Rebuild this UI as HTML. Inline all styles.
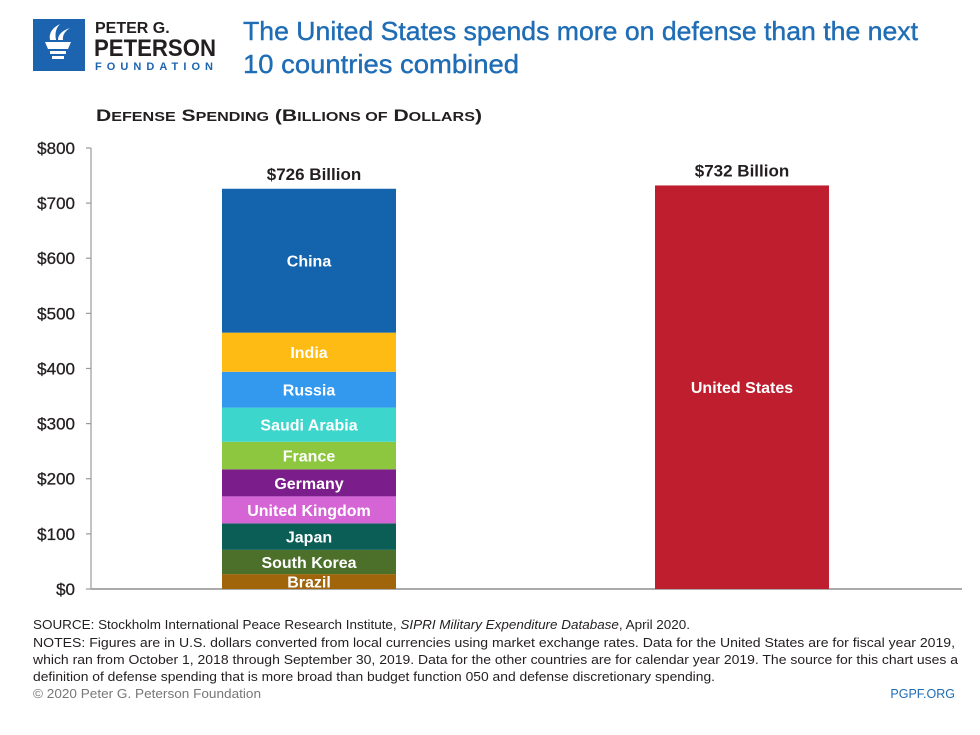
<!DOCTYPE html>
<html><head><meta charset="utf-8">
<style>
html,body{margin:0;padding:0;background:#fff;}
svg{display:block;font-family:"Liberation Sans",sans-serif;}
</style></head>
<body>
<svg id="chart" width="980" height="735" viewBox="0 0 980 735">
  <g>
    <rect x="33" y="19" width="52" height="52" fill="#1c64b0"/>
    <path d="M45 42 h26 l-3 7 h-20 z M50 51 h16 v3 h-16 z M52 56 h12 v3 h-12 z" fill="#fff"/>
    <path d="M50 40 q-2 -10 10 -16 q-6 6 -4 16 z M58 40 q0 -8 12 -12 q-8 5 -7 12 z" fill="#fff"/>
    <text x="95" y="33" font-size="16" font-weight="bold" fill="#231f20">PETER G.</text>
    <text x="94" y="56" font-size="24" font-weight="bold" fill="#231f20" textLength="122" lengthAdjust="spacingAndGlyphs">PETERSON</text>
    <text x="95" y="70" font-size="11" font-weight="bold" fill="#1c64b0" textLength="118" lengthAdjust="spacing">FOUNDATION</text>
  </g>
  <text x="243" y="40" font-size="26" fill="#1f6db5" stroke="#1f6db5" stroke-width="0.4" textLength="675" lengthAdjust="spacingAndGlyphs">The United States spends more on defense than the next</text>
  <text x="243" y="73" font-size="26" fill="#1f6db5" stroke="#1f6db5" stroke-width="0.4" textLength="276" lengthAdjust="spacingAndGlyphs">10 countries combined</text>
  <text x="96" y="121" font-size="17" font-weight="bold" fill="#231f20" textLength="386" lengthAdjust="spacingAndGlyphs">D<tspan font-size="13">EFENSE</tspan> S<tspan font-size="13">PENDING</tspan> (B<tspan font-size="13">ILLIONS OF</tspan> D<tspan font-size="13">OLLARS</tspan>)</text>
  <g id="axis"></g>
  <g id="bars"></g>
  <g font-size="12.5" fill="#231f20">
    <text x="33" y="629" textLength="657" lengthAdjust="spacingAndGlyphs">SOURCE: Stockholm International Peace Research Institute, <tspan font-style="italic">SIPRI Military Expenditure Database</tspan>, April 2020.</text>
    <text x="33" y="647" textLength="922" lengthAdjust="spacingAndGlyphs">NOTES: Figures are in U.S. dollars converted from local currencies using market exchange rates. Data for the United States are for fiscal year 2019,</text>
    <text x="33" y="664" textLength="925" lengthAdjust="spacingAndGlyphs">which ran from October 1, 2018 through September 30, 2019. Data for the other countries are for calendar year 2019. The source for this chart uses a</text>
    <text x="33" y="681" textLength="682" lengthAdjust="spacingAndGlyphs">definition of defense spending that is more broad than budget function 050 and defense discretionary spending.</text>
    <text x="33" y="698" fill="#777" textLength="228" lengthAdjust="spacingAndGlyphs">© 2020 Peter G. Peterson Foundation</text>
    <text x="955" y="698" fill="#1f6db5" text-anchor="end">PGPF.ORG</text>
  </g>
</svg>
<script>
const countries = ["Brazil","South Korea","Japan","United Kingdom","Germany","France","Saudi Arabia","Russia","India","China"];
const values = [27,44,48,49,49,50,62,65,71,261];
const colors = ["#a0650a","#4c6f2a","#0b5e55","#d565d5","#7b1e8c","#8dc63f","#3dd6cc","#3399ee","#fdbb14","#1463ad"];
const usValue = [732];
const ticks = [0,100,200,300,400,500,600,700,800];
const tickLabels = ["$0","$100","$200","$300","$400","$500","$600","$700","$800"];
const totalLabels = ["$726 Billion","$732 Billion"];

const NS="http://www.w3.org/2000/svg";
const y0=589, k=0.5513;
function y(v){return y0-v*k;}
function mk(tag,attrs,parent){const e=document.createElementNS(NS,tag);for(const a in attrs)e.setAttribute(a,attrs[a]);parent.appendChild(e);return e;}
const ax=document.getElementById('axis'), bars=document.getElementById('bars');
const yl=mk('line',{x1:91,x2:91,y1:y(800),y2:y0,stroke:'#999','stroke-width':1.2},ax);


const xl=mk('line',{x1:91,x2:962,y1:y0,y2:y0,stroke:'#aaa','stroke-width':2},ax);


ticks.forEach((t,i)=>{
  const tl=mk('line',{x1:86,x2:91,y1:y(t),y2:y(t),stroke:'#999','stroke-width':1.2},ax);
  
  
  const tx=mk('text',{x:75,y:y(t)+6,'text-anchor':'end','font-size':17,fill:'#231f20',stroke:'#231f20','stroke-width':0.3},ax);
  tx.textContent=tickLabels[i];
  
  
});
let cum=0;
values.forEach((v,i)=>{
  const r=mk('rect',{x:222,width:174,y:y(cum+v),height:v*k,fill:colors[i]},bars);
  
  
  const mid=y(cum+v/2);
  const t=mk('text',{x:309,y:mid+6,'text-anchor':'middle','font-size':16,'font-weight':'bold',fill:'#fff'},bars);
  t.textContent=countries[i];
  
  
  cum+=v;
});
const tl1=mk('text',{x:314,y:y(cum)-9,'text-anchor':'middle','font-size':17,'font-weight':'bold',fill:'#231f20'},bars);
tl1.textContent=totalLabels[0];


const us=mk('rect',{x:655,width:174,y:y(usValue[0]),height:usValue[0]*k,fill:'#be1e2d'},bars);


const ut=mk('text',{x:742,y:y(usValue[0]/2)+6,'text-anchor':'middle','font-size':16,'font-weight':'bold',fill:'#fff'},bars);
ut.textContent="United States";


const tl2=mk('text',{x:742,y:y(usValue[0])-9,'text-anchor':'middle','font-size':17,'font-weight':'bold',fill:'#231f20'},bars);
tl2.textContent=totalLabels[1];


</script>
</body></html>
